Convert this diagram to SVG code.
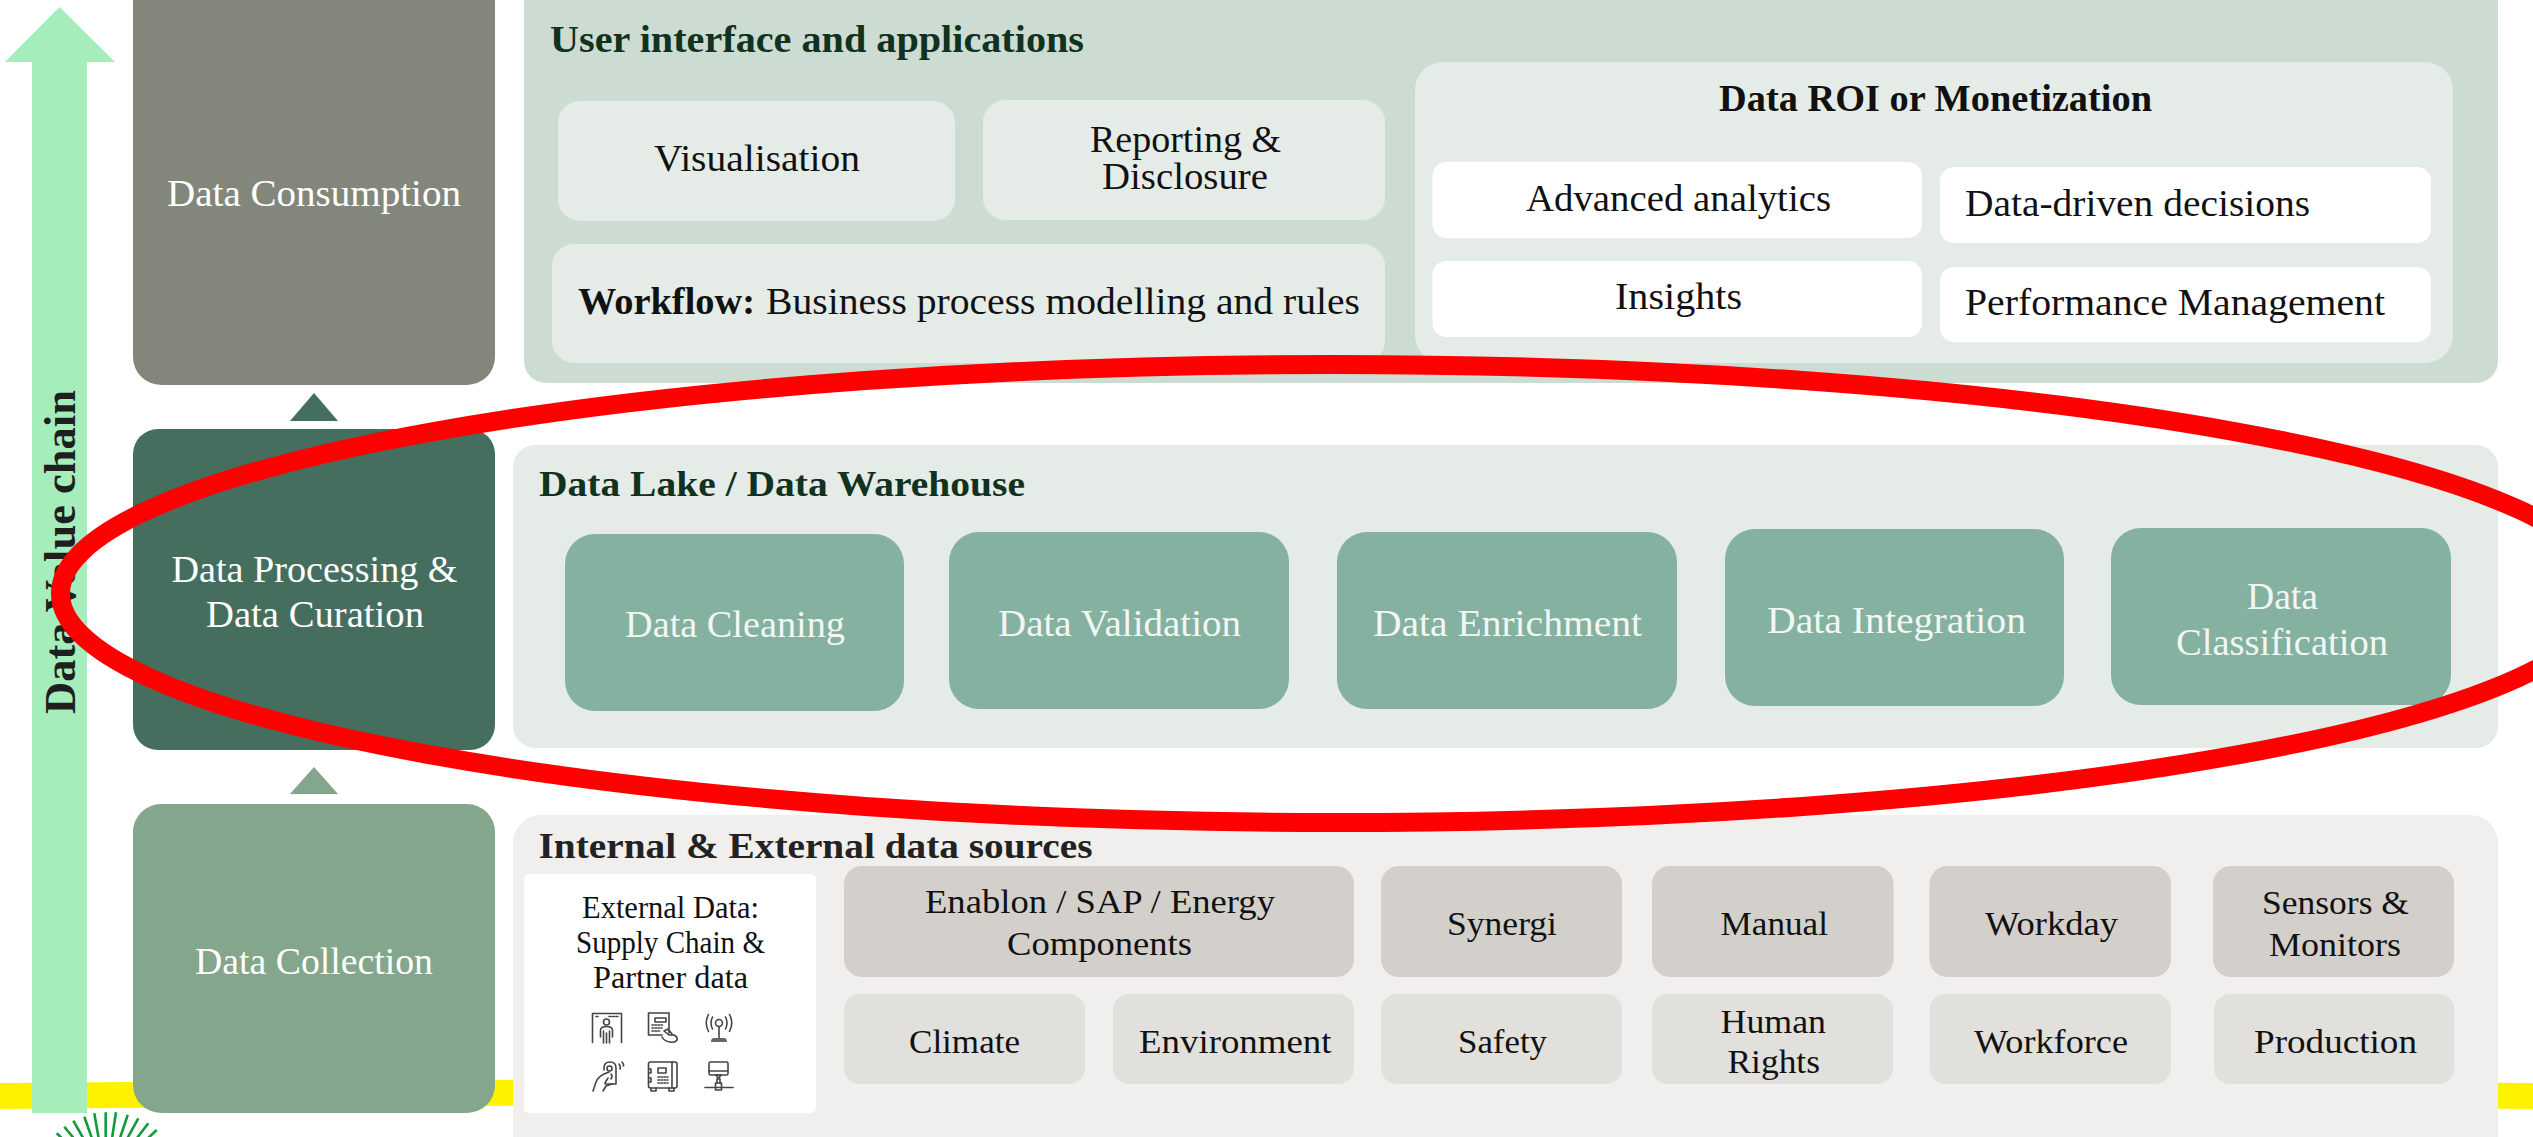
<svg xmlns="http://www.w3.org/2000/svg" width="2533" height="1137" viewBox="0 0 2533 1137">
<style>
text{font-family:"Liberation Serif","Times New Roman",serif;font-size:37px;fill:#111}
.w{fill:#fff}.l{fill:#f3f7f4;font-size:38px}.b{font-weight:700}
.h{font-weight:700;fill:#10321e;font-size:37px}
.s{font-size:34px}.e{font-size:31px}
.ic{fill:none;stroke:#444;stroke-width:1.6;stroke-linecap:round;stroke-linejoin:round}
.icf{fill:#666;stroke:none}
.lk{fill:#84b1a0}.g1{fill:#d3d0cb}.g2{fill:#e1e0dd}.p{fill:#e5ece7}.wb{fill:#fff}
.ray{stroke:#129a3c;stroke-width:2.6;fill:none}
</style>
<g id="background">
<path d="M-5 1096Q1266 1086 2540 1096" fill="none" stroke="#fff200" stroke-width="26"/>
<g class="ray">
<path d="M56.700 1133.300L81 1156M64.300 1126.700L85 1152M73.300 1120.700L90 1150M84.300 1116.700L95 1147M94.300 1113.300L100 1146M105.700 1112.300V1145M116 1112.300L111 1145M127.700 1115L117 1147M138.300 1118.300L122 1148M148.300 1123.300L127 1151M156.700 1130L131 1154"/>
</g>
</g>
<g id="value-chain-arrow">
<path d="M59.500 7L115 62H87V1113H32V62H5Z" fill="#a5edbb"/>
<text transform="translate(74.500 714) rotate(-90)" class="b" style="font-size:44px;fill:#1f1f1f" textLength="324" lengthAdjust="spacingAndGlyphs">Data Value chain</text>
</g>
<g id="connectors">
<path d="M314 393L338 421H290Z" fill="#466e5e"/>
<path d="M314 767L338 794H290Z" fill="#83a68c"/>
</g>
<g id="data-consumption">
<rect x="133" y="-30" width="362" height="415" rx="28" fill="#83877b"/>
<text x="167" y="206" class="w" style="font-size:38px" textLength="294" lengthAdjust="spacingAndGlyphs">Data Consumption</text>
</g>
<g id="data-processing">
<rect x="133" y="429" width="362" height="321" rx="25" fill="#466e5e"/>
<text x="171.500" y="582" class="w" style="font-size:38px" textLength="286" lengthAdjust="spacingAndGlyphs">Data Processing &amp;</text>
<text x="206" y="627" class="w" style="font-size:38px" textLength="218" lengthAdjust="spacingAndGlyphs">Data Curation</text>
</g>
<g id="data-collection">
<rect x="133" y="804" width="362" height="309" rx="28" fill="#83a68c"/>
<text x="195" y="974" class="w" style="font-size:38px" textLength="238" lengthAdjust="spacingAndGlyphs">Data Collection</text>
</g>
<g id="ui-panel">
<rect x="524" y="-30" width="1974" height="413" rx="22" fill="#cddcd2"/>
<text x="550" y="52" class="h" textLength="534" lengthAdjust="spacingAndGlyphs">User interface and applications</text>
</g>
<g id="visualisation">
<rect x="558" y="101" width="397" height="120" rx="22" class="p"/>
<text x="654" y="171" textLength="206" lengthAdjust="spacingAndGlyphs">Visualisation</text>
</g>
<g id="reporting">
<rect x="983" y="100" width="402" height="120" rx="22" class="p"/>
<text x="1090" y="152" textLength="191" lengthAdjust="spacingAndGlyphs">Reporting &amp;</text>
<text x="1102" y="189" textLength="166" lengthAdjust="spacingAndGlyphs">Disclosure</text>
</g>
<g id="workflow">
<rect x="552" y="244" width="833" height="119" rx="22" class="p"/>
<text x="578" y="314" class="b" textLength="177" lengthAdjust="spacingAndGlyphs">Workflow:</text>
<text x="766" y="314" textLength="594" lengthAdjust="spacingAndGlyphs">Business process modelling and rules</text>
</g>
<g id="roi-panel">
<rect x="1415" y="62" width="1038" height="301" rx="28" class="p"/>
<text x="1719" y="111" class="b" textLength="433" lengthAdjust="spacingAndGlyphs">Data ROI or Monetization</text>
</g>
<g id="advanced-analytics">
<rect x="1432.500" y="162" width="489.500" height="76" rx="14" class="wb"/>
<text x="1526" y="211" textLength="305" lengthAdjust="spacingAndGlyphs">Advanced analytics</text>
</g>
<g id="data-driven">
<rect x="1940" y="167" width="491" height="76" rx="14" class="wb"/>
<text x="1965" y="216" textLength="345" lengthAdjust="spacingAndGlyphs">Data-driven decisions</text>
</g>
<g id="insights">
<rect x="1432.500" y="261" width="489.500" height="76" rx="14" class="wb"/>
<text x="1615" y="309" textLength="127" lengthAdjust="spacingAndGlyphs">Insights</text>
</g>
<g id="performance">
<rect x="1940" y="267" width="491" height="75" rx="14" class="wb"/>
<text x="1965" y="315" textLength="420" lengthAdjust="spacingAndGlyphs">Performance Management</text>
</g>
<g id="lake-panel">
<rect x="513" y="445" width="1985" height="303" rx="22" class="p"/>
<text x="539" y="496" class="h" style="font-size:36px" textLength="486" lengthAdjust="spacingAndGlyphs">Data Lake / Data Warehouse</text>
</g>
<g id="data-cleaning">
<rect x="565" y="534" width="339" height="177" rx="30" class="lk"/>
<text x="625" y="637" class="l" textLength="220" lengthAdjust="spacingAndGlyphs">Data Cleaning</text>
</g>
<g id="data-validation">
<rect x="949" y="532" width="340" height="177" rx="30" class="lk"/>
<text x="998" y="636" class="l" textLength="243" lengthAdjust="spacingAndGlyphs">Data Validation</text>
</g>
<g id="data-enrichment">
<rect x="1337" y="532" width="340" height="177" rx="30" class="lk"/>
<text x="1373" y="636" class="l" textLength="269" lengthAdjust="spacingAndGlyphs">Data Enrichment</text>
</g>
<g id="data-integration">
<rect x="1725" y="529" width="339" height="177" rx="30" class="lk"/>
<text x="1767" y="633" class="l" textLength="259" lengthAdjust="spacingAndGlyphs">Data Integration</text>
</g>
<g id="data-classification">
<rect x="2111" y="528" width="340" height="177" rx="30" class="lk"/>
<text x="2247" y="609" class="l" textLength="71" lengthAdjust="spacingAndGlyphs">Data</text>
<text x="2176" y="655" class="l" textLength="212" lengthAdjust="spacingAndGlyphs">Classification</text>
</g>
<g id="sources-panel">
<rect x="513" y="815" width="1985" height="360" rx="28" fill="#f0efed"/>
<text x="538.500" y="858" class="b" style="fill:#222;font-size:36px" textLength="554" lengthAdjust="spacingAndGlyphs">Internal &amp; External data sources</text>
</g>
<g id="external-data">
<rect x="524" y="874" width="292" height="239" rx="5" class="wb"/>
<text x="582" y="918" class="e" textLength="177" lengthAdjust="spacingAndGlyphs">External Data:</text>
<text x="576" y="953" class="e" textLength="189" lengthAdjust="spacingAndGlyphs">Supply Chain &amp;</text>
<text x="593" y="988" class="e" textLength="155" lengthAdjust="spacingAndGlyphs">Partner data</text>
<g class="ic">
<path d="M592.500 1042.500V1013.500H621.500V1042.500"/>
<path d="M596 1016.500H599M609 1016.500H618" stroke-dasharray="2 1.500"/>
<circle cx="606.500" cy="1022" r="3"/>
<path d="M600.500 1037V1030Q601 1026.500 606.500 1026.500Q612 1026.500 612.500 1030V1037M603.500 1031V1043M606.500 1033V1043M609.500 1031V1043"/>
<path d="M669 1033V1013H648.500V1035H662"/>
<rect x="655" y="1018" width="11" height="4"/>
<path d="M652 1025H664M652 1028H662M652 1031H660" stroke-dasharray="1.500 1.500"/>
<path d="M664 1031L669 1035L674 1035Q678 1037 677 1040Q675 1043 670 1042Q664 1041 662 1037M664 1031L668 1029L672 1034"/>
<circle cx="719" cy="1023" r="3.500"/>
<path d="M719 1027V1038M712.500 1017Q709.500 1023 712.500 1029M725.500 1017Q728.500 1023 725.500 1029M708.500 1014.500Q704 1023 708.500 1031.500M729.500 1014.500Q734 1023 729.500 1031.500"/>
<path class="icf" d="M711 1042Q711 1038 714 1038H724Q727 1038 727 1042Z"/>
<path d="M604 1070V1068Q604 1062 610 1062Q616 1062 616 1068V1084H605"/>
<circle cx="609.500" cy="1068.500" r="2.500"/>
<path d="M593 1091L596 1082Q598 1077 604 1074L609 1072M605 1083L608 1078M603 1091L606 1086L612 1084M611 1074Q613 1076 611 1079"/>
<path d="M619 1064Q621 1066 620 1069M622 1062Q624 1064 623.500 1066"/>
<rect x="648.500" y="1062" width="28.500" height="26" rx="2"/>
<path d="M651 1088V1091H656V1088M669 1088V1091H674V1088M672 1062V1088M648.500 1069H651V1073H648.500M648.500 1078H651V1082H648.500"/>
<rect x="658" y="1068" width="8" height="5"/>
<path d="M658 1077H668M658 1080H668M658 1083H668" stroke-dasharray="1.500 1.500"/>
<rect x="709" y="1062" width="19" height="13" rx="1.500"/>
<path d="M709 1071H728"/>
<path d="M716 1075H721L719 1078H718ZM705 1087.500H733"/>
<rect x="715.500" y="1083" width="6" height="7"/>
<path d="M717 1083V1079H720V1083"/>
</g>
</g>
<g id="enablon"><rect x="844" y="866" width="510" height="111" rx="18" class="g1"/>
<text x="925" y="913" class="s" textLength="350" lengthAdjust="spacingAndGlyphs">Enablon / SAP / Energy</text>
<text x="1007" y="955" class="s" textLength="185" lengthAdjust="spacingAndGlyphs">Components</text></g>
<g id="synergi"><rect x="1381" y="866" width="241" height="111" rx="18" class="g1"/>
<text x="1447" y="935" class="s" textLength="110" lengthAdjust="spacingAndGlyphs">Synergi</text></g>
<g id="manual"><rect x="1652" y="866" width="241.500" height="111" rx="18" class="g1"/>
<text x="1720.500" y="935" class="s" textLength="107.500" lengthAdjust="spacingAndGlyphs">Manual</text></g>
<g id="workday"><rect x="1929.500" y="866" width="241.500" height="111" rx="18" class="g1"/>
<text x="1985" y="935" class="s" textLength="133" lengthAdjust="spacingAndGlyphs">Workday</text></g>
<g id="sensors"><rect x="2213" y="866" width="241" height="111" rx="18" class="g1"/>
<text x="2262" y="914" class="s" textLength="147" lengthAdjust="spacingAndGlyphs">Sensors &amp;</text>
<text x="2269" y="956" class="s" textLength="132" lengthAdjust="spacingAndGlyphs">Monitors</text></g>
<g id="climate"><rect x="844" y="994" width="241" height="90" rx="16" class="g2"/>
<text x="909" y="1053" class="s" textLength="111" lengthAdjust="spacingAndGlyphs">Climate</text></g>
<g id="environment"><rect x="1113" y="994" width="241" height="90" rx="16" class="g2"/>
<text x="1139" y="1053" class="s" textLength="192.500" lengthAdjust="spacingAndGlyphs">Environment</text></g>
<g id="safety"><rect x="1381" y="994" width="241" height="90" rx="16" class="g2"/>
<text x="1458" y="1053" class="s" textLength="89" lengthAdjust="spacingAndGlyphs">Safety</text></g>
<g id="human-rights"><rect x="1652" y="994" width="241" height="90" rx="16" class="g2"/>
<text x="1720.500" y="1033" class="s" textLength="105.500" lengthAdjust="spacingAndGlyphs">Human</text>
<text x="1727.500" y="1073" class="s" textLength="92.500" lengthAdjust="spacingAndGlyphs">Rights</text></g>
<g id="workforce"><rect x="1929.500" y="994" width="241.500" height="90" rx="16" class="g2"/>
<text x="1974" y="1053" class="s" textLength="154" lengthAdjust="spacingAndGlyphs">Workforce</text></g>
<g id="production"><rect x="2214" y="994" width="240.500" height="90" rx="16" class="g2"/>
<text x="2254" y="1053" class="s" textLength="163" lengthAdjust="spacingAndGlyphs">Production</text></g>
<ellipse id="highlight" cx="1334" cy="593.500" rx="1273.500" ry="229" fill="none" stroke="#ff0000" stroke-width="19"/>
</svg>
